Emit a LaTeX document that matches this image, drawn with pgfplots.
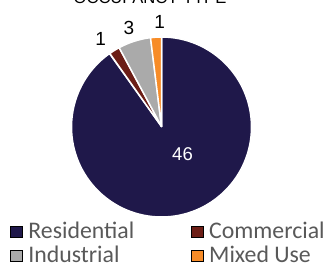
\documentclass[border=0pt]{standalone}
\usepackage{pgfplots}
\pgfplotsset{compat=1.18}
\usepackage{pgfplotstable}
\usepackage{fontspec}
\setmainfont{Liberation Sans}
\newfontfamily\arial{Liberation Sans}
\newfontfamily\carlito{Carlito}
\definecolor{cRes}{RGB}{31,24,74}
\definecolor{cCom}{RGB}{108,30,22}
\definecolor{cInd}{RGB}{170,170,170}
\definecolor{cMix}{RGB}{247,140,40}
\definecolor{legtext}{HTML}{595959}

\pgfplotstableread{
label value color
Residential 46 cRes
Commercial 1 cCom
Industrial 3 cInd
Mixed 1 cMix
}\pietable

\begin{document}
\begin{tikzpicture}
\def\tot{0}
\pgfplotsforeachungrouped \i in {0,1,2,3}{%
  \pgfplotstablegetelem{\i}{value}\of\pietable
  \pgfmathsetmacro{\tot}{\tot+\pgfplotsretval}%
}
\def\cum{0}
\pgfplotsforeachungrouped \i in {0,1,2,3}{%
  \pgfmathsetmacro{\sa}{90-360*(\cum/\tot)}%
  \pgfplotstablegetelem{\i}{value}\of\pietable
  \pgfmathsetmacro{\cum}{\cum+\pgfplotsretval}%
  \pgfmathsetmacro{\ea}{90-360*(\cum/\tot)}%
  \expandafter\let\csname sa\i\endcsname\sa
  \expandafter\let\csname ea\i\endcsname\ea
  \pgfplotstablegetelem{\i}{color}\of\pietable
  \colorlet{slice\i}{\pgfplotsretval}%
}
\begin{axis}[
  at={(161.5pt,135.5pt)}, anchor=center,
  scale only axis, width=179pt, height=179pt,
  xmin=-1, xmax=1, ymin=-1, ymax=1,
  hide axis, clip=false,
  legend columns=2, legend cell align=left,
  legend image code/.code={\fill[#1] (0pt,-6.5pt) rectangle (12pt,4.5pt);},
  legend style={draw=none, fill=none, inner sep=0pt, outer sep=0pt,
     at={(axis description cs:-0.3464,-0.0374)}, anchor=north west,
     font=\carlito\fontsize{23.8}{23.8}\selectfont, text=legtext,
     nodes={inner sep=0pt, text height=16pt, text depth=0pt},
     row sep=8pt,
     /tikz/every odd column/.append style={column sep=6pt},
     /tikz/every even column/.append style={column sep=56.5pt}},
]
\pgfplotsinvokeforeach{0,1,2,3}{%
  \filldraw[fill=slice#1, draw=white, line width=1.5pt, line join=round]
    (axis cs:0,0) -- (axis cs:{cos(\csname sa#1\endcsname)},{sin(\csname sa#1\endcsname)})
    arc[start angle=\csname sa#1\endcsname, end angle=\csname ea#1\endcsname, radius=90pt] -- cycle;
}
\addlegendimage{fill=cRes}\addlegendentry{Residential}
\addlegendimage{fill=cCom}\addlegendentry{Commercial}
\addlegendimage{fill=cInd}\addlegendentry{Industrial}
\addlegendimage{fill=cMix}\addlegendentry{Mixed Use}
\node[font=\arial\fontsize{18.5}{18.5}\selectfont, text=white] at (axis cs:0.235,-0.304) {46};
\node[font=\arial\fontsize{19}{19}\selectfont] at (axis cs:-0.679,0.978) {1};
\node[font=\arial\fontsize{19}{19}\selectfont] at (axis cs:-0.363,1.097) {3};
\node[font=\arial\fontsize{19}{19}\selectfont] at (axis cs:-0.022,1.168) {1};
\end{axis}
\node[anchor=base, inner sep=0pt, font=\arial\fontsize{16.6}{16.6}\selectfont] at (150pt,258.5pt) {OCCUPANCY TYPE};
\pgfresetboundingbox
\useasboundingbox (0pt,0pt) rectangle (328pt,262pt);
\end{tikzpicture}
\end{document}
